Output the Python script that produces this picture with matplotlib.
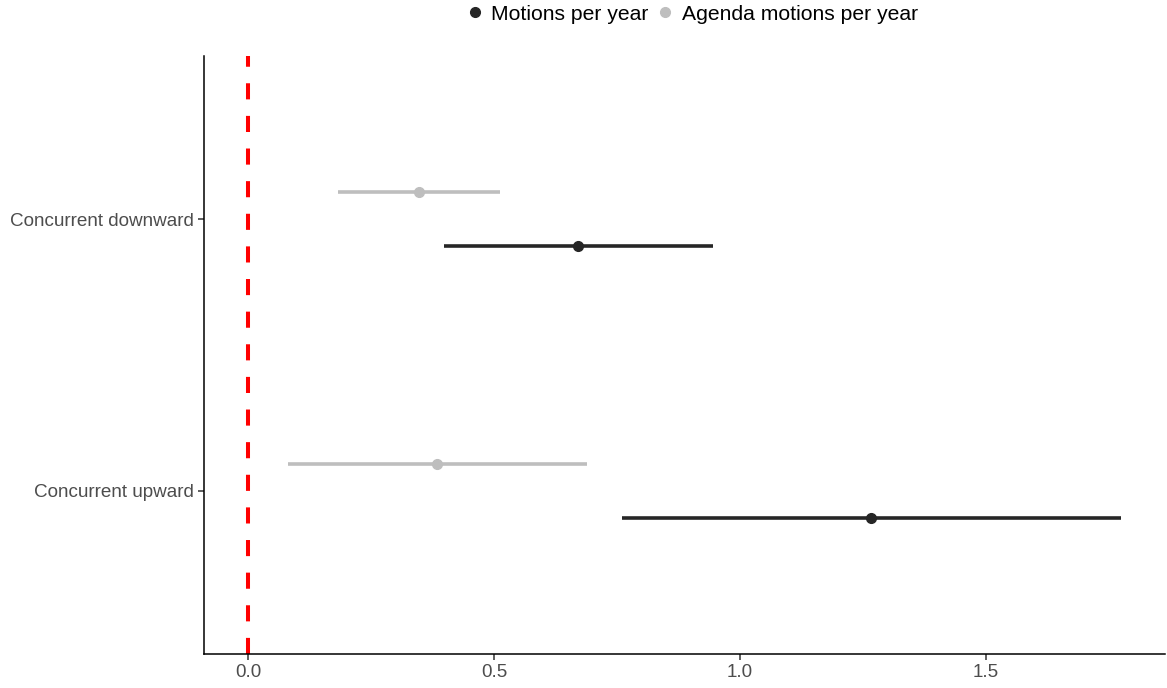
import matplotlib
matplotlib.use("Agg")
import matplotlib.pyplot as plt
from matplotlib.lines import Line2D

categories = ["Concurrent upward", "Concurrent downward"]
series_names = ["Motions per year", "Agenda motions per year"]
motions_est = [1.266, 0.671]
motions_lo = [0.760, 0.398]
motions_hi = [1.774, 0.945]
agenda_est = [0.384, 0.348]
agenda_lo = [0.081, 0.183]
agenda_hi = [0.689, 0.512]
xticks = [0.0, 0.5, 1.0, 1.5]
xticklabels = ["0.0", "0.5", "1.0", "1.5"]

colors = ["#262626", "#BEBEBE"]
plt.rcParams['font.family'] = ['Liberation Sans', 'DejaVu Sans']

fig = plt.figure(figsize=(11.67, 6.88), dpi=100)
ax = fig.add_axes([204/1167, 1-654/688, (1165-204)/1167, (654-56)/688])

ypos = list(range(1, len(categories)+1))
dodge = 0.1
series = [(motions_est, motions_lo, motions_hi, -dodge), (agenda_est, agenda_lo, agenda_hi, dodge)]
for (est, lo, hi, off), c in zip(series, colors):
    for y, e, l, h in zip(ypos, est, lo, hi):
        ax.plot([l, h], [y+off, y+off], color=c, lw=2.6, solid_capstyle='butt', zorder=2)
        ax.plot([e], [y+off], 'o', color=c, ms=7, zorder=3)

ax.axvline(0, color='#FF0000', lw=2.9, linestyle=(0, (4.0, 4.1)), zorder=1)

ax.set_ylim(0.4, 2.6)
ax.set_xlim(-0.0894, 1.864)
ax.set_yticks(ypos)
ax.set_yticklabels(categories)
ax.set_xticks(xticks)
ax.set_xticklabels(xticklabels)
for s in ['top', 'right']:
    ax.spines[s].set_visible(False)
for s in ['left', 'bottom']:
    ax.spines[s].set_linewidth(1.1)
    ax.spines[s].set_color('black')
ax.tick_params(axis='both', length=4, width=1.1, color='#333333', labelsize=13.6, labelcolor='#4D4D4D', pad=3)

handles = [Line2D([], [], marker='o', linestyle='', color=c, ms=7) for c in colors]
fig.legend(handles, series_names, loc='upper center', bbox_to_anchor=(0.592, 1.021), ncol=2,
           frameon=False, fontsize=15.2, handletextpad=0.3, columnspacing=0.25, handlelength=1.0)

fig.savefig("out.png", dpi=100, facecolor='white')
